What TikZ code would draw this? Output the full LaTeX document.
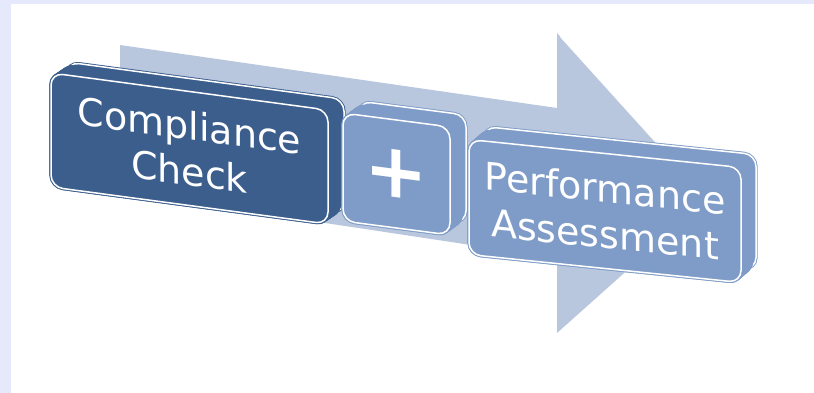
\documentclass[tikz,border=0pt]{standalone}
\usepackage{fontspec}
\setmainfont{DejaVu Sans}

\definecolor{frameblue}{RGB}{230,233,252}
\definecolor{arrowblue}{RGB}{185,199,222}
\definecolor{ccblue}{RGB}{59,94,140}
\definecolor{pablue}{RGB}{126,156,199}

\begin{document}
\begin{tikzpicture}[x=1pt,y=-1pt]
    \tikzstyle{face}=[rounded corners=12pt,inner sep=0pt,double=white,double distance=1.5pt,line width=0.9pt]
    \tikzstyle{back face}=[face]
    \tikzstyle{front face}=[face,text=white,align=center,font=\fontsize{38}{46}\selectfont]

    % Frame of the slide
    \fill[frameblue] (0,0) rectangle (814,393);
    \fill[white] (11,4) rectangle (814,393);

    % Draw the big arrow behind the boxes
    \coordinate (tail-top) at (120,45);
    \coordinate (neck-top) at (557,108);
    \coordinate (head-top) at (557,33);
    \coordinate (tip) at (707,199);
    \coordinate (head-bot) at (557,333);
    \coordinate (neck-bot) at (557,258);
    \coordinate (tail-bot) at (120,192);
    \fill[arrowblue] (tail-top) -- (neck-top) -- (head-top) -- (tip)
        -- (head-bot) -- (neck-bot) -- (tail-bot) -- cycle;
    \draw[white,line width=0.8pt,xshift=-2.5pt,shorten <=5pt] (head-top) -- (tip);

    % Draw the three boxes: back face, solid sides, front face
    \foreach \name/\x/\y/\w/\h/\s/\dx/\dy/\col/\txt in
        {cc/189.5/148.5/277/114/-0.134/16/-13/ccblue/{Compliance\\Check},
         plus/396.5/174/107/108/-0.13/16/-14/pablue/{\fontsize{76}{76}\bfseries +},
         pa/605/211/272/115/-0.103/15/-14.5/pablue/{Performance\\Assessment}}
    {
        \begin{scope}[shift={(\x,\y)},yslant=\s,transform shape]
            \node[back face,fill=\col,draw=\col,minimum width=\w,minimum height=\h]
                (\name-back) at (\dx,\dy) {};
            \foreach \t in {0,0.05,...,0.75}
                \fill[\col,rounded corners=13pt]
                    ({\t*\dx-\w/2-1.6},{\t*\dy-\h/2-1.6}) rectangle ({\t*\dx+\w/2+1.6},{\t*\dy+\h/2+1.6});
            \node[front face,fill=\col,draw=\col,minimum width=\w,minimum height=\h]
                (\name) at (0,0) {\txt};
        \end{scope}
    }
\end{tikzpicture}
\end{document}
